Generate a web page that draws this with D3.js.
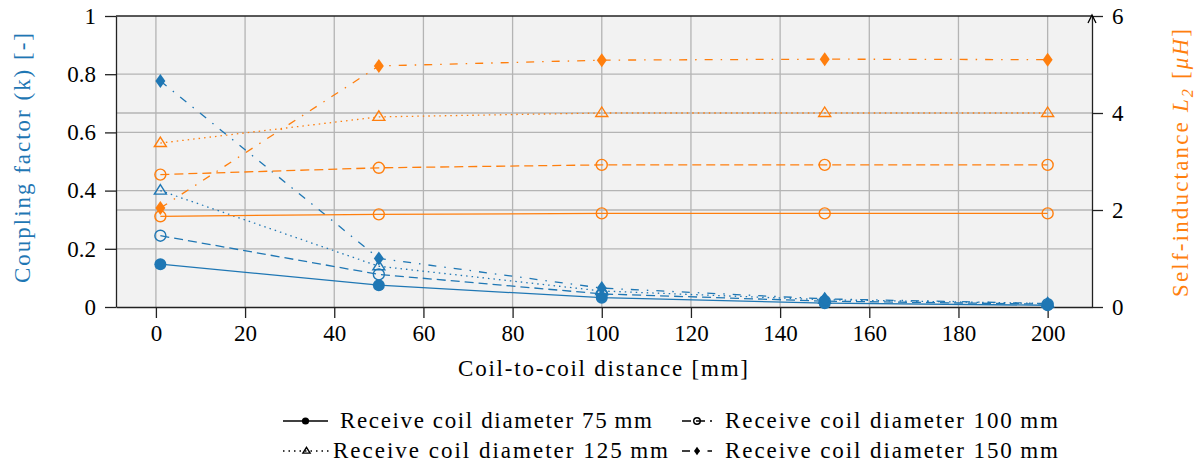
<!DOCTYPE html>
<html>
<head>
    <meta charset="UTF-8">
    <script src="https://d3js.org/d3.v7.min.js"></script>
</head>
<body style="margin:0">
<svg width="1196" height="470" font-family="Liberation Serif"></svg>
<script>
    // distances [mm]
    const distance = [1, 50, 100, 150, 200];
    const diameters = ["75", "100", "125", "150"];

    // coupling factor k (left axis)
    const k75  = [0.147, 0.075, 0.032, 0.013, 0.006];
    const k100 = [0.245, 0.112, 0.045, 0.020, 0.010];
    const k125 = [0.400, 0.140, 0.055, 0.025, 0.012];
    const k150 = [0.777, 0.167, 0.065, 0.028, 0.012];

    // self-inductance L2 [uH] (right axis)
    const L75  = [1.87, 1.91, 1.93, 1.93, 1.93];
    const L100 = [2.73, 2.87, 2.93, 2.93, 2.93];
    const L125 = [3.38, 3.92, 4.00, 4.00, 4.00];
    const L150 = [2.04, 4.97, 5.09, 5.11, 5.10];

    const xTicks = [0, 20, 40, 60, 80, 100, 120, 140, 160, 180, 200];
    const yLeftTicks = [0, 0.2, 0.4, 0.6, 0.8, 1];
    const yRightTicks = [0, 2, 4, 6];

    const blue = "#1f77b4", orange = "#ff7f0e";
    const FONT = '"Liberation Serif"';
    const dashes = ["none", "9,5", "1.5,4", "8,8,1.5,8"];
    const blueMarkers = ["dot", "circle", "triangle", "diamond"];
    const orangeMarkers = ["circle", "circle", "triangle", "diamond"];

    const svg = d3.select("svg");
    const margin = {top: 16, right: 104, bottom: 163, left: 116};
    const width = 1196 - margin.left - margin.right,
          height = 470 - margin.top - margin.bottom;
    const g = svg.append("g").attr("transform", `translate(${margin.left},${margin.top})`);

    const x = d3.scaleLinear().domain([1 - 9.95, 200 + 9.95]).range([0, width]);
    const yL = d3.scaleLinear().domain([0, 1]).range([height, 0]);
    const yR = d3.scaleLinear().domain([0, 6]).range([height, 0]);

    // text styling helper
    function serif(sel, size) {
        return sel.style("font-family", FONT, "important").style("font-size", size + "px", "important");
    }

    // background
    g.append("rect").attr("width", width).attr("height", height).attr("fill", "#f2f2f2");

    // grid
    const grid = g.append("g").attr("stroke", "#b4b4b4").attr("stroke-width", 1.3);
    grid.selectAll(".vx").data(xTicks).join("line")
        .attr("x1", d => x(d)).attr("x2", d => x(d)).attr("y1", 0).attr("y2", height);
    grid.selectAll(".hl").data(yLeftTicks.slice(1, -1)).join("line")
        .attr("x1", 0).attr("x2", width).attr("y1", d => yL(d)).attr("y2", d => yL(d));
    grid.selectAll(".hr").data(yRightTicks.slice(1, -1)).join("line")
        .attr("x1", 0).attr("x2", width).attr("y1", d => yR(d)).attr("y2", d => yR(d));

    // axes
    const axes = [
        g.append("g").attr("transform", `translate(0,${height})`)
            .call(d3.axisBottom(x).tickValues(xTicks).tickSize(11).tickSizeOuter(0).tickPadding(7)),
        g.append("g")
            .call(d3.axisLeft(yL).tickValues(yLeftTicks).tickSize(11).tickSizeOuter(0).tickPadding(9)
                .tickFormat(d => d === 0 || d === 1 ? d : d3.format(".1f")(d))),
        g.append("g").attr("transform", `translate(${width},0)`)
            .call(d3.axisRight(yR).tickValues(yRightTicks).tickSize(11).tickSizeOuter(0).tickPadding(9)
                .tickFormat(d3.format("d")))
    ];
    axes.forEach(a => {
        a.attr("font-family", "Liberation Serif").attr("font-size", 23);
        a.selectAll("path, line").attr("stroke", "#222").attr("stroke-width", 1.3);
        serif(a.selectAll("text"), 23).attr("fill", "#000");
    });
    // top border
    g.append("line").attr("x1", 0).attr("x2", width).attr("y1", 0).attr("y2", 0)
        .attr("stroke", "#222").attr("stroke-width", 1.3);
    // arrow on right axis
    g.append("path").attr("d", `M${width - 4},7 L${width},-1 L${width + 4},7`)
        .attr("fill", "none").attr("stroke", "#000").attr("stroke-width", 1.3);

    // marker drawing
    function marker(sel, type, color, s) {
        if (type === "dot") {
            sel.append("circle").attr("r", 6 * s).attr("fill", color);
        } else if (type === "circle") {
            sel.append("circle").attr("r", 5.5 * s).attr("fill", "none").attr("stroke", color).attr("stroke-width", 1.4);
        } else if (type === "triangle") {
            sel.append("path").attr("d", `M0,${-6 * s} L${6 * s},${3.5 * s} L${-6 * s},${3.5 * s} Z`)
                .attr("fill", "none").attr("stroke", color).attr("stroke-width", 1.4);
        } else {
            sel.append("path").attr("d", `M0,${-7 * s} L${5 * s},0 L0,${7 * s} L${-5 * s},0 Z`).attr("fill", color);
        }
    }

    const series = [
        {vals: k75, y: yL, color: blue, i: 0, m: blueMarkers[0]},
        {vals: k100, y: yL, color: blue, i: 1, m: blueMarkers[1]},
        {vals: k125, y: yL, color: blue, i: 2, m: blueMarkers[2]},
        {vals: k150, y: yL, color: blue, i: 3, m: blueMarkers[3]},
        {vals: L75, y: yR, color: orange, i: 0, m: orangeMarkers[0]},
        {vals: L100, y: yR, color: orange, i: 1, m: orangeMarkers[1]},
        {vals: L125, y: yR, color: orange, i: 2, m: orangeMarkers[2]},
        {vals: L150, y: yR, color: orange, i: 3, m: orangeMarkers[3]}
    ];

    const plot = g.append("g");
    series.forEach(s => {
        const pts = distance.map((d, j) => [d, s.vals[j]]);
        plot.append("path").datum(pts)
            .attr("fill", "none").attr("stroke", s.color).attr("stroke-width", 1.3)
            .attr("stroke-dasharray", dashes[s.i])
            .attr("d", d3.line().x(d => x(d[0])).y(d => s.y(d[1])));
        pts.forEach(p => {
            const m = plot.append("g").attr("transform", `translate(${x(p[0])},${s.y(p[1])})`);
            marker(m, s.m, s.color, 1);
        });
    });

    // axis labels
    function label(sel) {
        return serif(sel, 23).attr("lengthAdjust", "spacing");
    }
    label(svg.append("text")).attr("x", 603).attr("y", 376)
        .attr("text-anchor", "middle").attr("textLength", 290).text("Coil-to-coil distance [mm]");
    label(svg.append("text")).attr("transform", `translate(30,158) rotate(-90)`)
        .attr("text-anchor", "middle").attr("textLength", 250).attr("fill", blue).text("Coupling factor (k) [-]");
    const rl = label(svg.append("text")).attr("transform", `translate(1188,163) rotate(-90)`)
        .attr("text-anchor", "middle").attr("fill", orange);
    rl.append("tspan").text("Self-inductance ");
    rl.append("tspan").style("font-style", "italic").text("L");
    rl.append("tspan").style("font-style", "italic").style("font-size", "16px", "important").attr("dy", 5).text("2");
    rl.append("tspan").attr("dy", -5).text(" [");
    rl.append("tspan").style("font-style", "italic").text("\u03bcH");
    rl.append("tspan").text("]");
    rl.attr("textLength", 268);

    // legend
    const legSample = [[283, 328], [682, 712], [283, 330], [682, 712]];
    const legText = [[340, 312], [725, 333], [333, 335], [725, 333]];
    const legRows = [421, 451];
    diameters.forEach((dm, i) => {
        const ry = legRows[Math.floor(i / 2)];
        const [x0, x1] = legSample[i];
        const lg = svg.append("g");
        lg.append("line").attr("x1", x0).attr("x2", x1).attr("y1", ry).attr("y2", ry)
            .attr("stroke", "#000").attr("stroke-width", 1.3).attr("stroke-dasharray", dashes[i]);
        const m = lg.append("g").attr("transform", `translate(${(x0 + x1) / 2},${ry})`);
        marker(m, blueMarkers[i], "#000", 0.6);
        label(lg.append("text")).attr("x", legText[i][0]).attr("y", ry + 7)
            .attr("textLength", legText[i][1]).text(`Receive coil diameter ${dm}\u2009mm`);
    });
</script>
</body>
</html>
